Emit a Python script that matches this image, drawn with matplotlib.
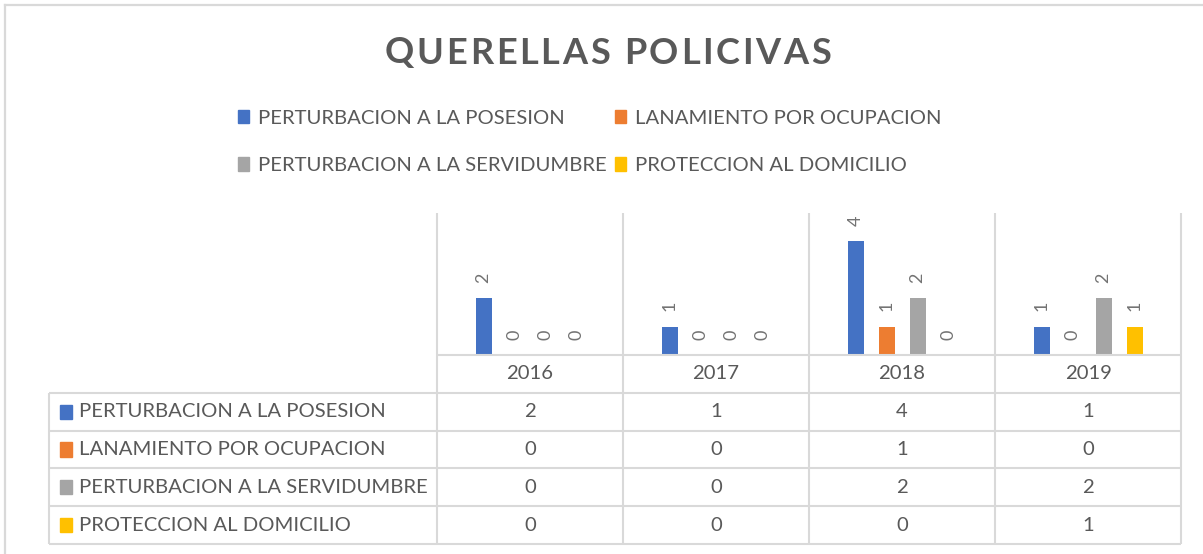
import matplotlib
matplotlib.use("Agg")
import matplotlib.pyplot as plt
import numpy as np
from matplotlib.patches import Rectangle
from matplotlib.lines import Line2D
from matplotlib.transforms import blended_transform_factory

# ---------------- data ----------------
years = ["2016", "2017", "2018", "2019"]
series_names = [
    "PERTURBACION A LA POSESION",
    "LANAMIENTO POR OCUPACION",
    "PERTURBACION A LA SERVIDUMBRE",
    "PROTECCION AL DOMICILIO",
]
perturbacion_posesion = [2, 1, 4, 1]
lanamiento_ocupacion = [0, 0, 1, 0]
perturbacion_servidumbre = [0, 0, 2, 2]
proteccion_domicilio = [0, 0, 0, 1]
series_values = [perturbacion_posesion, lanamiento_ocupacion,
                 perturbacion_servidumbre, proteccion_domicilio]
colors = ["#4472C4", "#ED7D31", "#A5A5A5", "#FFC000"]
title = "QUERELLAS POLICIVAS"

# ---------------- style ----------------
FONT = ["Lato", "DejaVu Sans"]
plt.rcParams["font.family"] = FONT
TXT = "#595959"
GRID = "#D9D9D9"
FS = 14.6

W, H = 1203, 554
fig = plt.figure(figsize=(W / 100, H / 100), dpi=100)


def px_rect(x0, y0, x1, y1):
    return [x0 / W, 1 - y1 / H, (x1 - x0) / W, (y1 - y0) / H]


# chart outer border (partially cut off at right / bottom)
fig.add_artist(Line2D([5 / W, 5 / W], [0, 1 - 5 / H], color=GRID, lw=1.6,
                      transform=fig.transFigure))
fig.add_artist(Line2D([5 / W, 1], [1 - 5 / H, 1 - 5 / H], color=GRID, lw=1.6,
                      transform=fig.transFigure))

# title with letter spacing
renderer = fig.canvas.get_renderer()
tkw = dict(fontsize=26, fontweight="bold", color=TXT, va="center", ha="left")
spacing = 2.7  # px between letters
chars = [fig.text(0, 1 - 53 / H, ch, **tkw) for ch in title]
widths = []
for ch, t in zip(title, chars):
    if ch == " ":
        ref = fig.text(0, 0, "A A", fontsize=26, fontweight="bold")
        ref2 = fig.text(0, 0, "AA", fontsize=26, fontweight="bold")
        w = (ref.get_window_extent(renderer).width
             - ref2.get_window_extent(renderer).width)
        ref.remove()
        ref2.remove()
    else:
        w = t.get_window_extent(renderer).width
    widths.append(w)
total = sum(widths) + spacing * (len(title) - 1)
xcur = 608 - total / 2
for t, w in zip(chars, widths):
    t.set_x(xcur / W)
    xcur += w + spacing

ax = fig.add_axes(px_rect(437, 213, 1181, 355))
tax = fig.add_axes(px_rect(437, 355, 1181, 544))

n = len(years)
x = np.arange(n)
step = 31 / 186
width = 16 / 186
for i, (vals, c) in enumerate(zip(series_values, colors)):
    pos = x + (i - 1.5) * step
    ax.bar(pos, vals, width=width, color=c, zorder=3)
    for xp, v in zip(pos, vals):
        ax.annotate(str(v), (xp, v), xytext=(0, 11), textcoords="offset points",
                    rotation=90, ha="center", va="bottom", fontsize=13,
                    color="#737373", annotation_clip=False)

ax.set_xlim(-0.5, n - 0.5)
ax.set_ylim(0, 5)
ax.axis("off")
bounds = np.arange(n + 1) - 0.5
ax.vlines(bounds, 0, 5, color=GRID, lw=1.5, clip_on=False)

# ---------------- data table ----------------
tax.set_xlim(-0.5, n - 0.5)
tax.set_ylim(len(series_names) + 1, 0)
tax.axis("off")
left_x = -0.5 - (437 - 49) / 186
nrows = len(series_names) + 1
tax.vlines(bounds, 0, nrows, color=GRID, lw=1.5, clip_on=False)
tax.vlines([left_x], 1, nrows, color=GRID, lw=1.5, clip_on=False)
tax.hlines([0], -0.5, n - 0.5, color=GRID, lw=1.5, clip_on=False)
tax.hlines(np.arange(1, nrows + 1), left_x, n - 0.5, color=GRID, lw=1.5,
           clip_on=False)

for j, yr in enumerate(years):
    tax.text(j, 0.5, yr, ha="center", va="center", fontsize=FS, color=TXT)

trans_px = blended_transform_factory(fig.transFigure, tax.transData)
for i, (name, vals, c) in enumerate(zip(series_names, series_values, colors)):
    yc = i + 1.5
    tax.add_patch(Rectangle((60 / W, yc - 0.19), 12 / W, 0.38, color=c,
                            transform=trans_px, clip_on=False))
    tax.text(79 / W, yc, name, transform=trans_px, ha="left", va="center",
             fontsize=FS, color=TXT)
    for j, v in enumerate(vals):
        tax.text(j, yc, str(v), ha="center", va="center", fontsize=FS,
                 color=TXT)

# ---------------- legend ----------------
order = [0, 2, 1, 3]
handles = [Rectangle((0, 0), 1, 1, color=colors[k]) for k in order]
labels = [series_names[k] for k in order]
fig.legend(handles, labels, ncol=2, loc="center",
           bbox_to_anchor=(590 / W, 1 - 142 / H), frameon=False,
           fontsize=FS, labelcolor=TXT, handlelength=0.55, handleheight=0.65,
           handletextpad=0.45, columnspacing=0.4, labelspacing=1.5)

fig.savefig("out.png", dpi=100)
